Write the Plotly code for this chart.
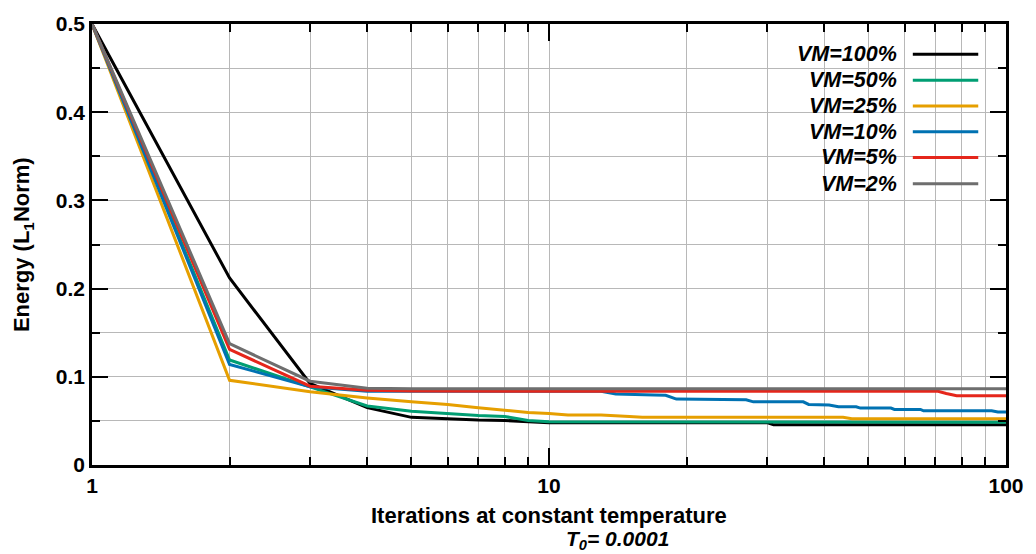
import plotly.graph_objects as go

# ---- data ----
series_names = ["VM=100%", "VM=50%", "VM=25%", "VM=10%", "VM=5%", "VM=2%"]
series_colors = ["#000000", "#009E73", "#E69F00", "#0072B2", "#E5261B", "#6E6E6E"]

x_vm100 = [1, 2, 3, 4, 5, 6, 7, 8, 9, 10, 30, 31, 100]
y_vm100 = [0.5, 0.212, 0.0924, 0.065, 0.054, 0.052, 0.051, 0.0505, 0.0495, 0.048, 0.048, 0.0455, 0.0455]

x_vm50 = [1, 2, 3, 4, 5, 6, 7, 8, 9, 10, 100]
y_vm50 = [0.5, 0.119, 0.0886, 0.067, 0.061, 0.058, 0.056, 0.055, 0.0505, 0.049, 0.0485]

x_vm25 = [1, 2, 3, 4, 5, 6, 7, 8, 9, 10, 11, 13, 14, 15, 16, 44, 46, 100]
y_vm25 = [0.5, 0.096, 0.083, 0.076, 0.0716, 0.0686, 0.065, 0.062, 0.0596, 0.0585, 0.0566, 0.0566,
          0.056, 0.055, 0.054, 0.054, 0.0525, 0.0525]

x_vm10 = [1, 2, 3, 4, 13, 14, 17, 18, 19, 22, 23, 27, 28, 36, 37, 41, 43, 47, 48, 56, 57, 65, 66, 93, 96, 100]
y_vm10 = [0.5, 0.114, 0.0886, 0.0835, 0.0835, 0.0805, 0.0795, 0.079, 0.0747, 0.0747, 0.074, 0.074, 0.0716,
          0.0716, 0.0687, 0.068, 0.066, 0.066, 0.0645, 0.0645, 0.063, 0.063, 0.0614, 0.0614, 0.060, 0.060]

x_vm5 = [1, 2, 3, 4, 5, 71, 74, 78, 100]
y_vm5 = [0.5, 0.131, 0.0894, 0.0848, 0.0838, 0.0835, 0.081, 0.0785, 0.0785]

x_vm2 = [1, 2, 3, 4, 5, 100]
y_vm2 = [0.5, 0.1376, 0.095, 0.087, 0.0865, 0.0865]

xs = [x_vm100, x_vm50, x_vm25, x_vm10, x_vm5, x_vm2]
ys = [y_vm100, y_vm50, y_vm25, y_vm10, y_vm5, y_vm2]

x_major_ticks = [1, 10, 100]
x_tick_labels = ["1", "10", "100"]
x_minor_ticks = [2, 3, 4, 5, 6, 7, 8, 9, 20, 30, 40, 50, 60, 70, 80, 90]
y_major_ticks = [0, 0.1, 0.2, 0.3, 0.4, 0.5]
y_tick_labels = ["0", "0.1", "0.2", "0.3", "0.4", "0.5"]

x_title = "Iterations at constant temperature"
x_subtitle = "T<sub>0</sub>= 0.0001"
y_title = "Energy (L<sub>1</sub>Norm)"

# ---- figure ----
FONT = "Liberation Sans, Arial, sans-serif"
W, H = 1036, 554
ML, MR, MT, MB = 92, 22, 23, 89
PW, PH = W - ML - MR, H - MT - MB


def px2x(px):
    return (px - ML) / PW


def py2y(py):
    return (MT + PH - py) / PH


fig = go.Figure()
for name, col, xv, yv in zip(series_names, series_colors, xs, ys):
    fig.add_trace(go.Scatter(x=xv, y=yv, mode="lines", name=name,
                             line=dict(color=col, width=3), showlegend=False))

grid_col = "#b8b8b8"
fig.update_xaxes(
    type="log", range=[0, 2],
    tickmode="array", tickvals=x_major_ticks, ticktext=x_tick_labels,
    ticks="inside", ticklen=17, tickwidth=2, tickcolor="black",
    showline=True, linecolor="black", linewidth=2.5, mirror="allticks",
    showgrid=True, gridcolor=grid_col, gridwidth=1.4,
    zeroline=False,
    tickfont=dict(family=FONT, size=21, color="black", weight="bold"),
    minor=dict(tickmode="array", tickvals=x_minor_ticks, ticks="inside", ticklen=8,
               tickwidth=2, tickcolor="black", showgrid=True, gridcolor=grid_col, gridwidth=1.4),
)
fig.update_yaxes(
    range=[0, 0.5],
    tickmode="array", tickvals=y_major_ticks, ticktext=y_tick_labels,
    ticks="inside", ticklen=16, tickwidth=2, tickcolor="black",
    showline=True, linecolor="black", linewidth=2.5, mirror="allticks",
    showgrid=True, gridcolor=grid_col, gridwidth=1.4,
    zeroline=False,
    tickfont=dict(family=FONT, size=21, color="black", weight="bold"),
    minor=dict(dtick=0.05, ticks="inside", ticklen=8, tickwidth=2, tickcolor="black",
               showgrid=True, gridcolor=grid_col, gridwidth=1.4),
)

shapes = [dict(type="rect", xref="paper", yref="paper",
               x0=px2x(798), x1=px2x(1005), y0=py2y(196), y1=py2y(24),
               fillcolor="white", line=dict(width=0), layer="between")]
annotations = []
row_py = [53.3, 79.3, 105.2, 131.0, 156.8, 183.0]
for name, col, py in zip(series_names, series_colors, row_py):
    annotations.append(dict(xref="paper", yref="paper", x=px2x(906), y=py2y(py),
                            xanchor="right", yanchor="middle", showarrow=False, text=name,
                            font=dict(family=FONT, size=21.5, color="black", weight="bold", style="italic")))
    shapes.append(dict(type="line", xref="paper", yref="paper", x0=px2x(920), x1=px2x(986),
                       y0=py2y(py), y1=py2y(py), line=dict(color=col, width=3)))

annotations.append(dict(xref="paper", yref="paper", x=0.5, y=py2y(516), xanchor="center", yanchor="middle",
                        showarrow=False, text=x_title,
                        font=dict(family=FONT, size=22, color="black", weight="bold")))
annotations.append(dict(xref="paper", yref="paper", x=px2x(622), y=py2y(540), xanchor="center", yanchor="middle",
                        showarrow=False, text=x_subtitle,
                        font=dict(family=FONT, size=21, color="black", weight="bold", style="italic")))
annotations.append(dict(xref="paper", yref="paper", x=px2x(22), y=0.5, xanchor="center", yanchor="middle",
                        showarrow=False, text=y_title, textangle=-90,
                        font=dict(family=FONT, size=22, color="black", weight="bold")))

fig.update_layout(
    width=W, height=H,
    margin=dict(l=ML, r=MR, t=MT, b=MB, pad=0),
    paper_bgcolor="white", plot_bgcolor="white",
    showlegend=False,
    shapes=shapes, annotations=annotations,
    font=dict(family=FONT, color="black"),
)

fig.write_html("out.html")
